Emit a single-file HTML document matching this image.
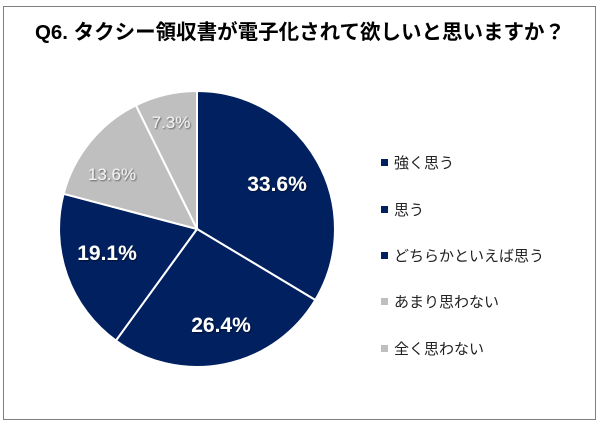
<!DOCTYPE html>
<html><head><meta charset="utf-8"><style>
html,body{margin:0;padding:0;background:#fff;}
body{width:600px;height:428px;position:relative;overflow:hidden;font-family:"Liberation Sans","Noto Sans CJK JP",sans-serif;}
.frame{position:absolute;left:3px;top:6px;width:591px;height:412px;border:1px solid #7f7f7f;}
.title{position:absolute;left:0;width:600px;top:15px;text-align:center;font-weight:bold;font-size:20.5px;color:#000;white-space:nowrap;}
.leg{position:absolute;left:381px;font-size:15px;color:#222;}
.leg span{display:inline-block;width:7px;height:7px;margin-right:6px;vertical-align:2px;}
</style></head><body>
<div class="frame"></div>
<div class="title">Q6. タクシー領収書が電子化されて欲しいと思いますか？</div>
<svg width="600" height="428" style="position:absolute;left:0;top:0">
<defs><filter id="sh"><feDropShadow dx="1" dy="1" stdDeviation="0.8" flood-color="#000" flood-opacity="0.5"/></filter></defs>
<g stroke="#fff" stroke-width="2">
<path d="M197,229 L197,91 A138,138 0 0 1 315.3,300 Z" fill="#002060"/>
<path d="M197,229 L315.3,300 A138,138 0 0 1 115.9,340.6 Z" fill="#002060"/>
<path d="M197,229 L115.9,340.6 A138,138 0 0 1 63.6,193.8 Z" fill="#002060"/>
<path d="M197,229 L63.6,193.8 A138,138 0 0 1 135.9,105.3 Z" fill="#bfbfbf"/>
<path d="M197,229 L135.9,105.3 A138,138 0 0 1 197,91 Z" fill="#bfbfbf"/>
</g>
<g font-family="Liberation Sans, sans-serif" text-anchor="middle" filter="url(#sh)">
<text x="277" y="191" font-size="21" font-weight="bold" fill="#fff">33.6%</text>
<text x="221" y="332" font-size="21" font-weight="bold" fill="#fff">26.4%</text>
<text x="107" y="260" font-size="21" font-weight="bold" fill="#fff">19.1%</text>
<text x="112" y="180" font-size="17" fill="#f2f2f2">13.6%</text>
<text x="171" y="128" font-size="17" fill="#f2f2f2">7.3%</text>
</g>
</svg>
<div class="leg" style="top:152px"><span style="background:#002060"></span>強く思う</div>
<div class="leg" style="top:199px"><span style="background:#002060"></span>思う</div>
<div class="leg" style="top:245px"><span style="background:#002060"></span>どちらかといえば思う</div>
<div class="leg" style="top:291px"><span style="background:#bfbfbf"></span>あまり思わない</div>
<div class="leg" style="top:338px"><span style="background:#bfbfbf"></span>全く思わない</div>
</body></html>
